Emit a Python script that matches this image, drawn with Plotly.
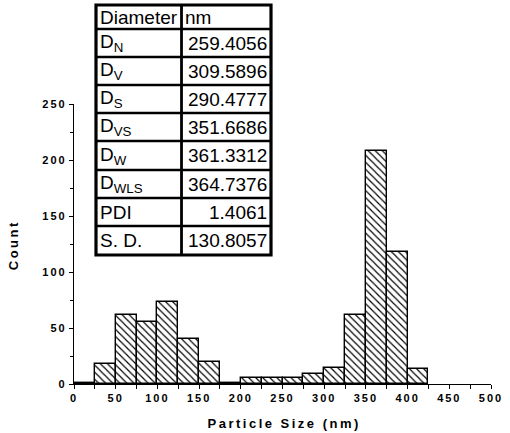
import plotly.graph_objects as go

# Histogram of particle sizes (25 nm bins)
bin_left = [0, 25, 50, 75, 100, 125, 150, 175, 200, 225, 250, 275, 300, 325, 350, 375, 400]
counts = [1, 18, 62, 55, 73, 40, 20, 1, 5, 5, 5, 9, 14, 62, 208, 118, 13]
bin_width = 25

# Summary table of mean diameters
row_labels = ["Diameter", "D<sub>N</sub>", "D<sub>V</sub>", "D<sub>S</sub>", "D<sub>VS</sub>",
              "D<sub>W</sub>", "D<sub>WLS</sub>", "PDI", "S. D."]
row_values = ["nm", "259.4056", "309.5896", "290.4777", "351.6686",
              "361.3312", "364.7376", "1.4061", "130.8057"]

x_ticks = [0, 50, 100, 150, 200, 250, 300, 350, 400, 450, 500]
y_ticks = [0, 50, 100, 150, 200, 250]
x_title = "Particle Size (nm)"
y_title = "Count"

W, H = 510, 433
ML, MR, MT, MB = 74, 19, 104, 49
PW, PH = W - ML - MR, H - MT - MB


def px_x(px):
    return (px - ML) / PW


def px_y(py):
    return (H - MB - py) / PH


centers = [b + bin_width / 2 for b in bin_left]

fig = go.Figure(go.Bar(
    x=centers, y=counts, width=bin_width,
    marker=dict(color="white",
                line=dict(color="black", width=1.4),
                pattern=dict(shape="\\", size=5, solidity=0.24,
                             fgcolor="black", bgcolor="white", fillmode="replace")),
    showlegend=False,
))

tick_font = dict(family="Liberation Sans, Arial, sans-serif", size=11, color="black", weight="bold")
title_font = dict(family="Liberation Sans, Arial, sans-serif", size=13, color="black", weight="bold")

fig.update_xaxes(
    range=[0, 500], tickvals=x_ticks, ticktext=[str(v) for v in x_ticks],
    showline=True, linecolor="black", linewidth=1.2, mirror=False, automargin=False,
    ticks="outside", ticklen=4, tickwidth=1, tickcolor="black",
    minor=dict(dtick=25, tick0=0, ticks="outside", ticklen=4, tickwidth=1, tickcolor="black"),
    showgrid=False, zeroline=False, tickfont=tick_font,
)
fig.update_yaxes(
    range=[0, 250], tickvals=y_ticks, ticktext=[str(v) for v in y_ticks],
    showline=True, linecolor="black", linewidth=1.2, mirror=False, automargin=False,
    ticks="outside", ticklen=4, tickwidth=1, tickcolor="black",
    minor=dict(dtick=25, tick0=0, ticks="outside", ticklen=3, tickwidth=1, tickcolor="black"),
    showgrid=False, zeroline=False, tickfont=tick_font,
)

annotations = [
    dict(text=x_title, xref="paper", yref="paper", x=px_x(284), y=px_y(423),
         xanchor="center", yanchor="middle", showarrow=False, font=title_font),
    dict(text=y_title, xref="paper", yref="paper", x=px_x(13), y=px_y(245),
         xanchor="center", yanchor="middle", showarrow=False, font=title_font, textangle=-90),
]

# Table geometry (pixels)
t_left, t_right, t_split = 96, 271, 181.5
row_edges = [5, 29, 57, 85, 113, 141, 170, 198, 226, 255]

shapes = []
for y_edge in row_edges[1:-1]:
    shapes.append(dict(type="line", xref="paper", yref="paper",
                       x0=px_x(t_left), x1=px_x(t_right), y0=px_y(y_edge), y1=px_y(y_edge),
                       line=dict(color="black", width=2.6), layer="above"))
shapes.append(dict(type="line", xref="paper", yref="paper",
                   x0=px_x(t_split), x1=px_x(t_split), y0=px_y(row_edges[0]), y1=px_y(row_edges[-1]),
                   line=dict(color="black", width=2.8), layer="above"))
shapes.append(dict(type="rect", xref="paper", yref="paper",
                   x0=px_x(t_left), x1=px_x(t_right), y0=px_y(row_edges[-1]), y1=px_y(row_edges[0]),
                   line=dict(color="black", width=3.2), fillcolor="rgba(0,0,0,0)", layer="above"))

cell_font = dict(family="Liberation Sans, Arial, sans-serif", size=19, color="black")
for i, (lab, val) in enumerate(zip(row_labels, row_values)):
    yc = (row_edges[i] + row_edges[i + 1]) / 2
    annotations.append(dict(text=lab, xref="paper", yref="paper",
                            x=px_x(t_left + 2), y=px_y(yc), xanchor="left", yanchor="middle",
                            showarrow=False, font=cell_font))
    if i == 0:
        annotations.append(dict(text=val, xref="paper", yref="paper",
                                x=px_x(t_split + 1.5), y=px_y(yc), xanchor="left", yanchor="middle",
                                showarrow=False, font=cell_font))
    else:
        annotations.append(dict(text=val, xref="paper", yref="paper",
                                x=px_x(t_right - 2.5), y=px_y(yc), xanchor="right", yanchor="middle",
                                showarrow=False, font=cell_font))

fig.update_layout(
    width=W, height=H, autosize=False,
    margin=dict(l=ML, r=MR, t=MT, b=MB, pad=0),
    paper_bgcolor="white", plot_bgcolor="white",
    bargap=0, shapes=shapes, annotations=annotations,
)

spacing_css = (
    "var s=document.createElement('style');"
    "s.textContent='.xtick text,.ytick text{letter-spacing:2px}"
    " g.annotation[data-index=\"0\"] text,g.annotation[data-index=\"1\"] text{letter-spacing:2.5px}';"
    "document.head.appendChild(s);"
)

fig.write_html("out.html", post_script=spacing_css)
